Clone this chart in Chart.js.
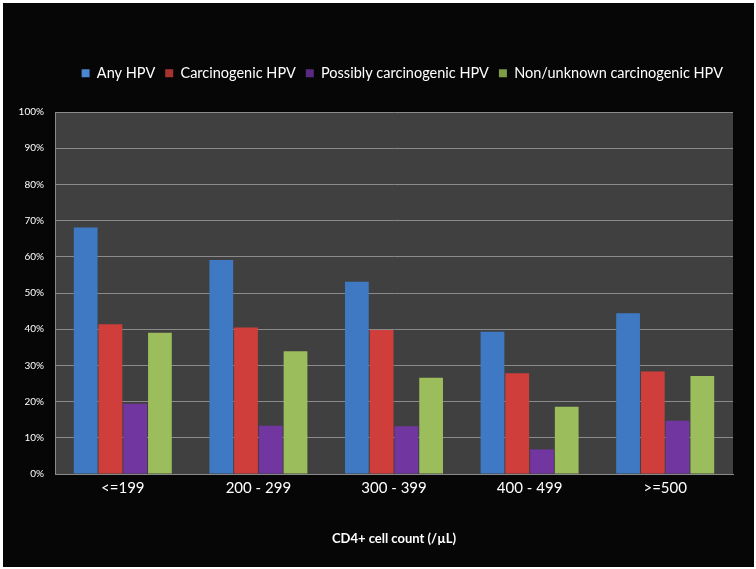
<!DOCTYPE html>
<html>
<head>
<meta charset="utf-8">
<script src="https://cdn.jsdelivr.net/npm/chart.js@4.4.1/dist/chart.umd.min.js"></script>
<style>
  html, body { margin: 0; padding: 0; background: #fff; }
  #wrap { width: 756px; height: 569px; }
</style>
</head>
<body>
<div id="wrap"><canvas id="chart" width="756" height="569"></canvas></div>
<script>
// data (percent)
const categories = ['<=199', '200 - 299', '300 - 399', '400 - 499', '>=500'];
const anyHpv = [68.1, 59.1, 53.1, 39.3, 44.4];
const carcinogenicHpv = [41.4, 40.5, 39.8, 27.8, 28.3];
const possiblyCarcinogenicHpv = [19.4, 13.3, 13.2, 6.8, 14.7];
const nonUnknownCarcinogenicHpv = [39.0, 33.9, 26.6, 18.6, 27.1];
const yTicks = [0, 10, 20, 30, 40, 50, 60, 70, 80, 90, 100];

const FONT = 'Lato, "Open Sans", "Liberation Sans", sans-serif';

// bevelled bar look: dark edges, lighter middle
function barFill(base, light, dark) {
  return (ctx) => {
    const el = ctx.element;
    if (!el || el.x === undefined || el.width === undefined) return base;
    const c = ctx.chart.ctx;
    const x0 = el.x - el.width / 2, x1 = el.x + el.width / 2;
    const g = c.createLinearGradient(x0, 0, x1, 0);
    g.addColorStop(0, dark);
    g.addColorStop(0.12, base);
    g.addColorStop(0.45, light);
    g.addColorStop(0.88, base);
    g.addColorStop(1, dark);
    return g;
  };
}

const frame = {
  id: 'frame',
  beforeLayout(chart) {
    // leave a gap between legend and plot, as in the original
    const lg = chart.legend;
    if (lg && !lg._gapPatched) {
      const origFit = lg.fit;
      lg.fit = function () { origFit.call(this); this.height = 56; };
      lg._gapPatched = true;
    }
  },
  beforeDraw(chart) {
    const c = chart.ctx;
    c.save();
    c.fillStyle = '#ffffff';
    c.fillRect(0, 0, chart.width, chart.height);
    c.fillStyle = '#060606';
    c.fillRect(3, 3, chart.width - 5, chart.height - 5);
    const a = chart.chartArea;
    c.fillStyle = '#404040';
    c.fillRect(a.left, a.top, a.right - a.left, a.bottom - a.top);
    c.restore();
  }
};

new Chart(document.getElementById('chart'), {
  type: 'bar',
  data: {
    labels: categories,
    datasets: [
      { label: 'Any HPV', data: anyHpv, backgroundColor: barFill('#3f79c4', '#4d88d2', '#2d5f9e'), borderWidth: 0 },
      { label: 'Carcinogenic HPV', data: carcinogenicHpv, backgroundColor: barFill('#cf3e3a', '#dc4a45', '#a83230'), borderWidth: 0 },
      { label: 'Possibly carcinogenic HPV', data: possiblyCarcinogenicHpv, backgroundColor: barFill('#7236a0', '#7f42ae', '#5a2a82'), borderWidth: 0 },
      { label: 'Non/unknown carcinogenic HPV', data: nonUnknownCarcinogenicHpv, backgroundColor: barFill('#9bbd5c', '#a6c864', '#7e9c48'), borderWidth: 0 }
    ]
  },
  options: {
    responsive: false,
    animation: false,
    devicePixelRatio: 1,
    categoryPercentage: 0.73,
    barPercentage: 0.96,
    layout: { padding: { left: 0, right: 23, top: 56, bottom: 20 } },
    plugins: {
      legend: {
        position: 'top',
        align: 'end',
        labels: {
          color: '#ffffff',
          font: { family: FONT, size: 14.5 },
          boxWidth: 8,
          boxHeight: 8,
          padding: 10
        },
        onClick: null
      },
      tooltip: { enabled: false }
    },
    scales: {
      x: {
        grid: { display: false, drawTicks: false },
        border: { display: true, color: '#8a8a8a', width: 1 },
        ticks: { color: '#ffffff', font: { family: FONT, size: 15 }, padding: 5 },
        title: {
          display: true,
          text: 'CD4+ cell count (/µL)',
          color: '#ffffff',
          font: { family: FONT, size: 13, weight: 'bold' },
          padding: { top: 18, bottom: 2 }
        },
        afterFit(scale) { scale.height = 75; }
      },
      y: {
        min: 0,
        max: 100,
        afterBuildTicks(scale) { scale.ticks = yTicks.map(v => ({ value: v })); },
        grid: { color: '#8a8a8a', lineWidth: 1, drawTicks: false },
        border: { display: true, color: '#8a8a8a' },
        ticks: {
          color: '#ffffff',
          font: { family: FONT, size: 10 },
          padding: 11,
          callback: (v) => v + '%'
        },
        afterFit(scale) { scale.width = 55; }
      }
    }
  },
  plugins: [frame]
});
</script>
</body>
</html>
